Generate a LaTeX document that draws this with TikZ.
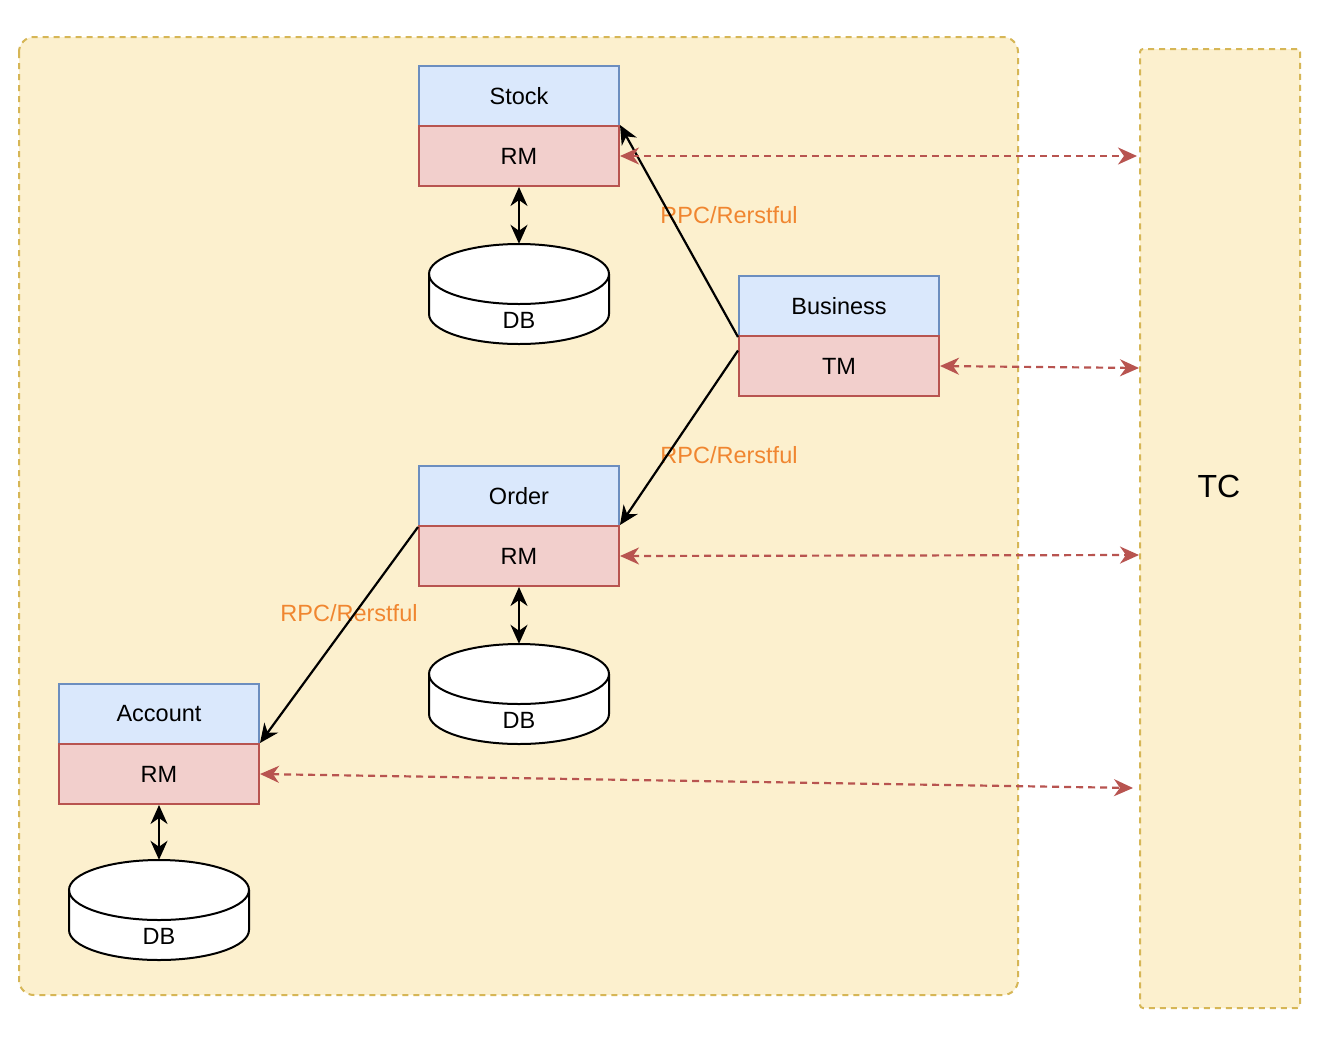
\documentclass[tikz,border=0pt]{standalone}
\usepackage{fontspec}
\setmainfont{Liberation Sans}
\usetikzlibrary{arrows.meta,calc}
\definecolor{ylfill}{HTML}{FCF0CE}
\definecolor{ylline}{HTML}{D6B656}
\definecolor{blfill}{HTML}{DAE8FC}
\definecolor{blline}{HTML}{6C8EBF}
\definecolor{rdfill}{HTML}{F2CFCC}
\definecolor{rdline}{HTML}{B85450}
\definecolor{lblorange}{RGB}{240,134,48}
\tikzset{
  tip/.style={-{Stealth[length=19pt,width=17pt,inset=6pt]}},
  dtip/.style={{Stealth[length=19pt,width=17pt,inset=6pt]}-{Stealth[length=19pt,width=17pt,inset=6pt]}},
  txt/.style={font=\fontsize{23.5}{28}\selectfont},
  bluebox/.style={txt,draw=blline,fill=blfill,line width=2pt,minimum width=200pt,minimum height=60pt,inner sep=0pt},
  redbox/.style={txt,draw=rdline,fill=rdfill,line width=2pt,minimum width=200pt,minimum height=60pt,inner sep=0pt},
  dbbox/.style={minimum width=180pt,minimum height=100pt,inner sep=0pt},
  conn/.style={draw=black,line width=2.2pt,tip},
  dbconn/.style={draw=black,line width=2.2pt,dtip},
  tcconn/.style={draw=rdline,line width=2.2pt,dash pattern=on 7pt off 5pt,dtip},
  lbl/.style={txt,text=lblorange,inner sep=0pt},
  zone/.style={draw=ylline,fill=ylfill,line width=2pt,dash pattern=on 6pt off 5pt}
}
\newcommand\mydbshape[3]{% name, cx, top
  \fill[white] (#2-90,#3+30) -- (#2-90,#3+70) arc[start angle=180,end angle=0,x radius=90,y radius=30] -- (#2+90,#3+30) arc[start angle=0,end angle=-180,x radius=90,y radius=30] -- cycle;
  \draw[line width=2pt] (#2-90,#3+30) -- (#2-90,#3+70) arc[start angle=180,end angle=0,x radius=90,y radius=30] -- (#2+90,#3+30);
  \draw[line width=2pt] (#2,#3+30) ellipse[x radius=90,y radius=30];
  \node[dbbox] (#1) at (#2,#3+50) {};
  \node[txt] (#1txt) at (#2,#3+76) {DB};
}
\begin{document}
\begin{tikzpicture}[x=1pt,y=-1pt]
\useasboundingbox (0,0) rectangle (1328,1042);
\fill[white] (0,0) rectangle (1328,1042);
% containers
\draw[zone,rounded corners=15pt] (19,37) rectangle (1018,995);
\node[zone,rounded corners=3pt,minimum width=160pt,minimum height=959pt,inner sep=0pt,anchor=north west] (tc) at (1139,48) {};
\node[font=\fontsize{32}{38}\selectfont,inner sep=0pt] (tclabel) at (1219,486) {TC};
% services
\node[bluebox] (stock) at (519,96) {Stock};
\node[redbox] (stockrm) at (519,156) {RM};
\node[bluebox] (biz) at (839,306) {Business};
\node[redbox] (tm) at (839,366) {TM};
\node[bluebox] (order) at (519,496) {Order};
\node[redbox] (orderrm) at (519,556) {RM};
\node[bluebox] (acc) at (159,714) {Account};
\node[redbox] (accrm) at (159,774) {RM};
% databases
\mydbshape{dbS}{519}{244}
\mydbshape{dbO}{519}{644}
\mydbshape{dbA}{159}{860}
% labels
\node[lbl] (l1) at (729,215) {RPC/Rerstful};
\node[lbl] (l2) at (729,455) {RPC/Rerstful};
\node[lbl] (l3) at (349,613) {RPC/Rerstful};
% RPC connectors
\draw[conn] (biz.south west) -- (stockrm.north east);
\draw[conn] ($(tm.north west)!0.25!(tm.south west)$) -- (orderrm.north east);
\draw[conn] (order.south west) -- (accrm.north east);
% DB connectors
\draw[dbconn] (stockrm.south) -- (dbS.north);
\draw[dbconn] (orderrm.south) -- (dbO.north);
\draw[dbconn] (accrm.south) -- (dbA.north);
% TC connectors
\coordinate (tcS) at (1137,156);
\coordinate (tcT) at (1139,368);
\coordinate (tcO) at (1139,555);
\coordinate (tcA) at (1133,788);
\draw[tcconn] (stockrm.east) -- (tcS);
\draw[tcconn] (tm.east) -- (tcT);
\draw[tcconn] (orderrm.east) -- (tcO);
\draw[tcconn] (accrm.east) -- (tcA);
\end{tikzpicture}
\end{document}
